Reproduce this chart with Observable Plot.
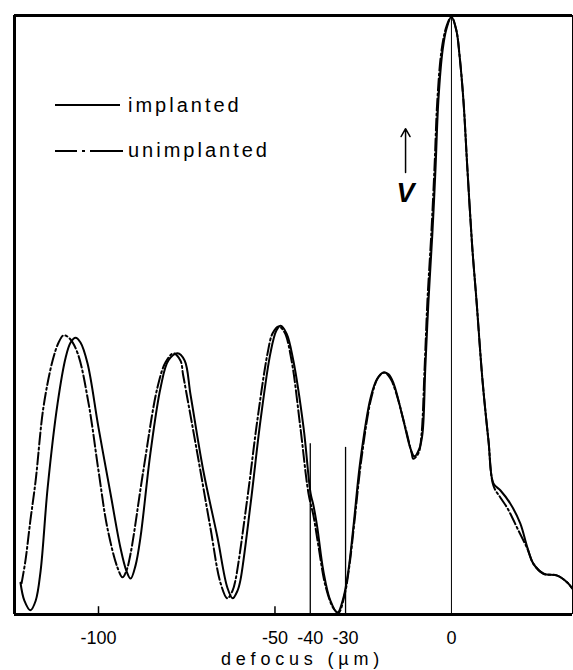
<!DOCTYPE html>
<html>
<head>
<meta charset="utf-8">
<script src="https://cdn.jsdelivr.net/npm/d3@7"></script>
<script src="https://cdn.jsdelivr.net/npm/@observablehq/plot@0.6"></script>
<style>
  body { margin: 0; background: #fff; }
  #wrap { position: relative; width: 573px; height: 670px; }
</style>
</head>
<body>
<div id="wrap"></div>
<script>
// ---- data (defocus in µm, relative intensity in % of peak) ----
const implanted = [
  [-122.1,5.3],[-121.0,2.3],[-119.3,0.7],[-117.8,2.3],[-116.4,7.3],[-114.4,21.2],[-111.6,35.2],
  [-109.3,42.9],[-107.9,45.4],[-106.5,46.2],[-105.1,45.4],[-103.1,41.9],[-100.0,31.2],[-96.6,20.2],
  [-93.8,11.2],[-92.1,7.3],[-90.9,6.0],[-89.5,8.2],[-88.1,12.9],[-85.3,26.9],[-82.4,37.9],
  [-80.2,42.4],[-77.6,43.6],[-75.6,42.4],[-73.9,36.6],[-70.3,24.0],[-66.3,12.9],[-63.5,4.5],
  [-62.0,2.7],[-60.6,4.0],[-59.8,5.7],[-56.9,18.5],[-54.1,32.4],[-51.3,43.6],[-49.6,47.4],
  [-48.4,48.2],[-46.7,46.9],[-44.8,42.4],[-41.9,31.2],[-39.9,20.2],[-39.1,18.2],[-38.0,14.5],
  [-36.3,7.3],[-34.3,2.3],[-32.3,0.3],[-30.6,2.8],[-29.2,7.3],[-27.8,14.5],[-25.8,25.7],
  [-22.9,36.2],[-21.0,39.4],[-19.3,40.4],[-17.8,40.1],[-16.4,38.6],[-13.6,32.4],[-11.6,27.7],
  [-10.5,26.4],[-9.1,27.7],[-8.2,30.2],[-7.4,41.2],[-6.5,52.4],[-5.4,63.6],[-4.5,74.6],
  [-3.7,85.8],[-2.5,94.2],[-1.4,97.8],[0,99.8],[1.4,97.5],[2.3,93.3],[3.4,85.8],[4.5,74.6],
  [5.9,61.3],[7.1,52.4],[8.8,39.1],[10.5,29.0],[11.9,21.9],[13.9,20.7],[16.7,18.5],[19.5,15.2],
  [21.5,11.2],[23.2,8.5],[26.1,6.8],[30.0,6.5],[32.9,5.3],[34.3,4.3]
];
const unimplanted = [
  [-121.8,5.2],[-120.7,9.0],[-119.3,15.7],[-117.8,22.4],[-115.6,34.6],[-113.0,42.4],[-111.3,45.4],
  [-109.9,46.6],[-108.2,46.1],[-105.9,43.6],[-102.8,35.2],[-100.0,24.0],[-97.5,14.5],[-94.6,7.8],
  [-93.2,6.2],[-92.1,7.3],[-90.9,10.2],[-87.3,24.0],[-83.3,37.9],[-81.0,42.1],[-78.8,43.6],
  [-76.8,42.4],[-76.0,39.9],[-72.0,26.9],[-68.3,14.5],[-65.4,5.2],[-63.5,2.7],[-62.0,4.0],
  [-61.2,5.7],[-57.8,19.5],[-55.0,32.4],[-52.1,43.6],[-50.7,46.9],[-49.0,48.1],[-47.3,47.1],
  [-45.3,42.4],[-42.8,31.2],[-40.5,20.2],[-39.1,16.5],[-37.7,11.5],[-35.7,4.8],[-33.4,1.0],
  [-32.0,0.3],[-30.3,3.2],[-28.9,8.2],[-27.5,15.4],[-25.5,26.0],[-22.7,36.2],[-20.7,39.6],
  [-19.0,40.4],[-17.3,39.4],[-15.9,37.4],[-13.0,31.1],[-11.3,27.0],[-10.8,26.0],[-9.3,27.0],
  [-8.5,29.9],[-7.6,41.2],[-6.8,52.4],[-5.7,63.6],[-4.8,74.6],[-4.0,85.8],[-2.8,94.2],
  [-1.4,98.2],[0,99.8],[1.4,97.5],[2.3,93.3],[3.4,85.8],[4.5,74.6],[5.9,61.3],[7.1,52.4],
  [8.8,39.1],[10.5,29.0],[11.9,21.5],[13.9,19.5],[15.9,17.7],[19.0,14.0],[21.5,11.0],
  [23.2,8.5],[26.1,6.8],[30.0,6.5],[32.9,5.3],[34.3,4.3]
];
const xDomain = [-123.8, 34.3];
const yDomain = [0, 100];
const tickValues = [-100, -50, -40, -30, 0];
const smallTicks = [-100, -50];
const markerLines = [{defocus: -40, top: 28.5}, {defocus: -30, top: 27.9}];
const focusLine = [0];
const annotation = [{defocus: -13, from: 73.8, to: 81.1, label: "V", labelAt: 70.3}];
const seriesNames = ["implanted", "unimplanted"];
const axisLabel = "defocus (µm)";

const toRows = (name, pts) => pts.map(([defocus, intensity]) => ({series: name, defocus, intensity}));
const implRows = toRows(seriesNames[0], implanted);
const unimplRows = toRows(seriesNames[1], unimplanted);
const DASH = "12,3,2,3";

const chart = Plot.plot({
  width: 573, height: 670,
  marginTop: 15, marginLeft: 14, marginRight: 1, marginBottom: 56,
  style: {fontFamily: "'Liberation Sans', Arial, sans-serif", fontSize: "18px", background: "#fff", color: "#000"},
  x: {domain: xDomain, axis: null},
  y: {domain: yDomain, axis: null},
  marks: [
    Plot.ruleX(focusLine, {stroke: "#000", strokeWidth: 1}),
    Plot.ruleX(markerLines, {x: "defocus", y1: 0, y2: "top", stroke: "#000", strokeWidth: 1.3}),
    Plot.ruleX(smallTicks, {y1: 0, y2: 1.3, stroke: "#000", strokeWidth: 1.5}),
    Plot.line(unimplRows, {x: "defocus", y: "intensity", stroke: "#000", strokeWidth: 2, strokeDasharray: DASH, curve: "catmull-rom"}),
    Plot.line(implRows, {x: "defocus", y: "intensity", stroke: "#000", strokeWidth: 2, curve: "catmull-rom"}),
    Plot.ruleY(yDomain, {stroke: "#000", strokeWidth: 3}),
    Plot.ruleX([xDomain[0]], {stroke: "#000", strokeWidth: 3}),
    Plot.ruleX([xDomain[1]], {stroke: "#000", strokeWidth: 1}),
    Plot.arrow(annotation, {x1: "defocus", x2: "defocus", y1: "from", y2: "to", stroke: "#000", strokeWidth: 1.5, headLength: 9}),
    Plot.text(annotation, {x: "defocus", y: "labelAt", text: "label", fontStyle: "italic", fontSize: 27, fontWeight: "bold", fill: "#000"}),
    // tick labels
    Plot.text(tickValues, {x: d => d, text: d => String(d), frameAnchor: "bottom", lineAnchor: "top", dy: 17, fontSize: 18, fill: "#000"}),
    // axis title
    Plot.text([axisLabel], {frameAnchor: "bottom", lineAnchor: "top", dy: 38, dx: 9, fontSize: 18, fill: "#000"})
  ]
});

d3.select(chart).selectAll("text")
  .filter(function() { return this.textContent === axisLabel; })
  .attr("letter-spacing", "4.8px");

const wrap = document.getElementById("wrap");
wrap.appendChild(chart);

// legend (overlay in the upper-left of the frame)
const legend = d3.create("svg")
  .attr("width", 300).attr("height", 180)
  .style("position", "absolute").style("left", "0px").style("top", "0px")
  .style("font-family", "'Liberation Sans', Arial, sans-serif");
const legendItems = [
  {label: seriesNames[0], dash: null, ly: 105, ty: 112},
  {label: seriesNames[1], dash: "22,5,3,5,60", ly: 151, ty: 157}
];
for (const it of legendItems) {
  legend.append("line").attr("x1", 55).attr("x2", it.dash ? 123 : 120)
    .attr("y1", it.ly).attr("y2", it.ly)
    .attr("stroke", "#000").attr("stroke-width", 2)
    .attr("stroke-dasharray", it.dash);
  legend.append("text").attr("x", 128).attr("y", it.ty)
    .attr("font-size", 20).attr("letter-spacing", "3px").attr("fill", "#000")
    .text(it.label);
}
wrap.appendChild(legend.node());
</script>
</body>
</html>
